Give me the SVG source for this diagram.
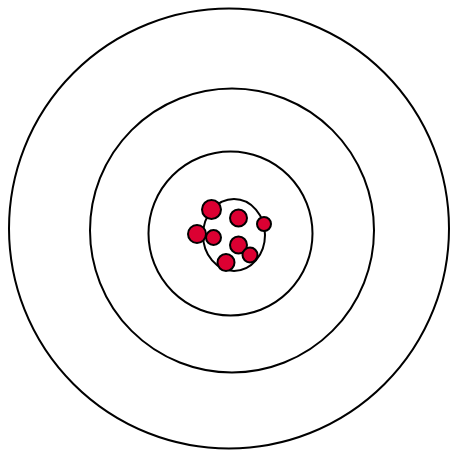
<svg xmlns="http://www.w3.org/2000/svg" width="452" height="450" viewBox="0 0 452 450">
<style>
.orbit{fill:none;stroke:#000;stroke-width:2}
.p{fill:#dc0032;stroke:#000;stroke-width:2}
</style>
<rect width="452" height="450" fill="#fff"/>
<g id="orbits">
<circle id="orbit3" class="orbit" cx="229" cy="228.5" r="220"/>
<circle id="orbit2" class="orbit" cx="232" cy="230.5" r="142"/>
<circle id="orbit1" class="orbit" cx="230.5" cy="233.5" r="82"/>
</g>
<g id="nucleus">
<ellipse class="orbit" cx="234" cy="235" rx="31" ry="36"/>
<circle class="p" cx="211.5" cy="209.5" r="9.5"/>
<circle class="p" cx="238.5" cy="218" r="8.5"/>
<circle class="p" cx="264" cy="224" r="7"/>
<circle class="p" cx="197" cy="234" r="9"/>
<circle class="p" cx="213.5" cy="237.5" r="7.5"/>
<circle class="p" cx="238.5" cy="245" r="8.5"/>
<circle class="p" cx="250" cy="255" r="7.5"/>
<circle class="p" cx="226" cy="262.5" r="8.5"/>
</g>
</svg>
